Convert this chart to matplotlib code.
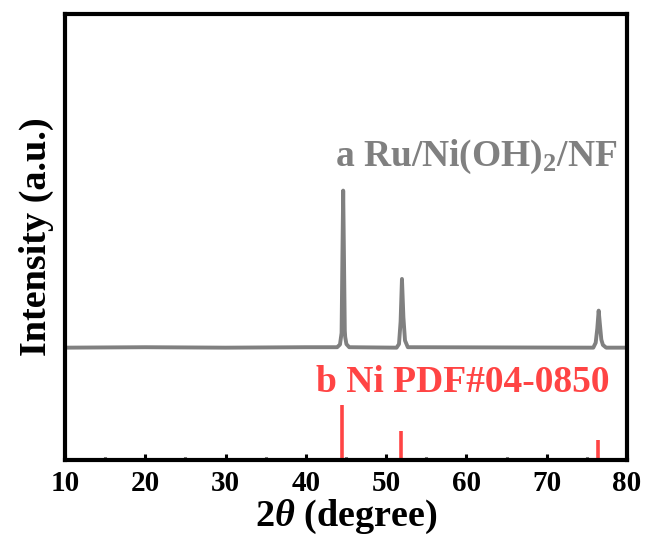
import matplotlib.pyplot as plt
from matplotlib.ticker import MultipleLocator

plt.rcParams['font.family'] = 'Liberation Serif'
plt.rcParams['font.weight'] = 'bold'
plt.rcParams['mathtext.fontset'] = 'custom'
plt.rcParams['mathtext.rm'] = 'Liberation Serif:bold'
plt.rcParams['mathtext.it'] = 'Liberation Serif:italic:bold'
plt.rcParams['mathtext.bf'] = 'Liberation Serif:bold'

two_theta = [10, 20, 30, 40, 43.9, 44.25, 44.45, 44.55, 44.65, 44.75, 44.85, 44.9, 45.05, 45.4,
             51.3, 51.6, 51.8, 51.97, 52.15, 52.35, 52.7,
             75.8, 76.1, 76.3, 76.47, 76.62, 76.8, 77.0, 77.4, 80]
intensity = [25.2, 25.3, 25.2, 25.3, 25.3, 25.9, 28.5, 45.0, 60.4, 45.0, 29.0, 27.6, 26.0, 25.3,
             25.2, 26.0, 31.0, 40.6, 32.0, 26.8, 25.3,
             25.2, 26.3, 29.5, 33.5, 30.5, 27.0, 25.8, 25.2, 25.2]

# reference card b (Ni PDF#04-0850)
ref_pos = [44.5, 51.85, 76.35]
ref_int = [12.3, 6.6, 4.5]

fig = plt.figure(figsize=(6.46, 5.35), dpi=100)
ax = fig.add_axes([0.1006, 0.140, 0.870, 0.834])

ax.plot(two_theta, intensity, color='#808080', lw=2.8)
ax.vlines(ref_pos, 0, ref_int, color='#ff4444', lw=2.6)

ax.text(43.6, 67.9, 'a Ru/Ni(OH)$_2$/NF', color='#808080', fontsize=27,
        fontweight='bold', ha='left', va='center')
ax.text(41.3, 17.3, 'b Ni PDF#04-0850', color='#ff4444', fontsize=27,
        fontweight='bold', ha='left', va='center')

ax.set_xlim(10, 80)
ax.set_ylim(0, 100)
ax.xaxis.set_major_locator(MultipleLocator(10))
ax.xaxis.set_minor_locator(MultipleLocator(5))
ax.set_yticks([])
ax.tick_params(axis='x', which='major', direction='in', length=4.5, width=2.2,
               labelsize=21, pad=7)
ax.tick_params(axis='x', which='minor', direction='in', length=2.5, width=2.2)
for s in ax.spines.values():
    s.set_linewidth(3)

ax.set_xlabel(r'2$\it{\theta}$ (degree)', fontsize=27.5, fontweight='bold', labelpad=1)
ax.set_ylabel('Intensity (a.u.)', fontsize=27.5, fontweight='bold', labelpad=8)

fig.savefig('out.png', dpi=100)
